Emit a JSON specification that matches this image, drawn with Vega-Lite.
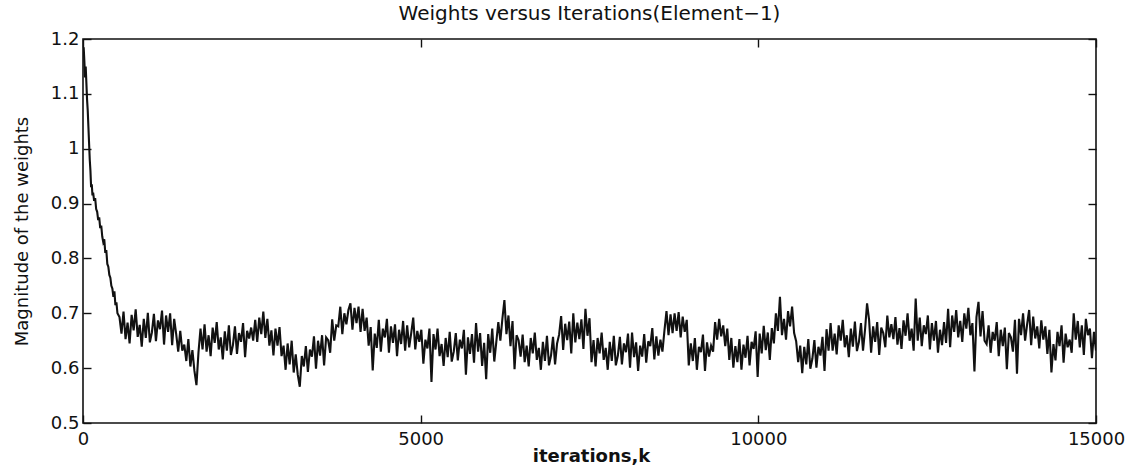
{
"$schema": "https://vega.github.io/schema/vega-lite/v6.json",
"autosize": {"type": "none"},
"width": 1013,
"height": 384,
"padding": {"left": 83, "top": 39, "right": 41, "bottom": 45},
"background": "white",
"config": {
  "view": {"stroke": "#111", "strokeWidth": 1.6},
  "axis": {"grid": false, "domain": false, "tickColor": "#111", "tickWidth": 1.4, "tickSize": -8,
           "labelFont": "DejaVu Sans", "labelFontSize": 18, "labelColor": "#111",
           "titleFont": "DejaVu Sans", "titleColor": "#111"},
  "title": {"font": "DejaVu Sans", "fontSize": 20, "fontWeight": "normal", "color": "#111"}
},
"title": {"text": "Weights versus Iterations(Element−1)", "anchor": "middle", "offset": 14, "baseline": "alphabetic", "dy": 24},
"data": {"values": [
{"k":0,"w":1.175},{"k":10,"w":1.185},{"k":20,"w":1.16},{"k":30,"w":1.13},{"k":40,"w":1.15},{"k":50,"w":1.12},{"k":60,"w":1.09},{"k":70,"w":1.07},{"k":80,"w":1.04},{"k":90,"w":1.01},
{"k":100,"w":0.98},{"k":110,"w":0.96},{"k":120,"w":0.93},{"k":130,"w":0.935},{"k":140,"w":0.915},{"k":150,"w":0.92},{"k":165,"w":0.905},{"k":180,"w":0.91},{"k":195,"w":0.89},{"k":210,"w":0.885},
{"k":225,"w":0.87},{"k":240,"w":0.875},{"k":255,"w":0.855},{"k":270,"w":0.86},{"k":285,"w":0.84},{"k":300,"w":0.83},{"k":315,"w":0.835},{"k":330,"w":0.81},{"k":345,"w":0.815},{"k":360,"w":0.79},
{"k":375,"w":0.785},{"k":390,"w":0.77},{"k":405,"w":0.765},{"k":420,"w":0.75},{"k":435,"w":0.745},{"k":450,"w":0.73},{"k":465,"w":0.74},{"k":480,"w":0.715},{"k":495,"w":0.72},{"k":510,"w":0.70},
{"k":540,"w":0.693},{"k":570,"w":0.663},{"k":600,"w":0.703},{"k":630,"w":0.653},{"k":660,"w":0.683},{"k":690,"w":0.645},{"k":720,"w":0.697},{"k":750,"w":0.669},{"k":780,"w":0.707},{"k":810,"w":0.657},
{"k":840,"w":0.679},{"k":870,"w":0.639},{"k":900,"w":0.690},{"k":930,"w":0.655},{"k":960,"w":0.701},{"k":990,"w":0.647},{"k":1020,"w":0.665},{"k":1050,"w":0.699},{"k":1080,"w":0.649},{"k":1110,"w":0.687},
{"k":1140,"w":0.671},{"k":1170,"w":0.705},{"k":1200,"w":0.643},{"k":1230,"w":0.696},{"k":1260,"w":0.666},{"k":1290,"w":0.700},{"k":1320,"w":0.642},{"k":1350,"w":0.690},{"k":1380,"w":0.662},{"k":1410,"w":0.630},
{"k":1440,"w":0.668},{"k":1470,"w":0.632},{"k":1500,"w":0.643},{"k":1530,"w":0.613},{"k":1560,"w":0.653},{"k":1590,"w":0.603},{"k":1620,"w":0.633},{"k":1650,"w":0.595},{"k":1680,"w":0.569},{"k":1710,"w":0.629},
{"k":1740,"w":0.672},{"k":1770,"w":0.634},{"k":1800,"w":0.680},{"k":1830,"w":0.630},{"k":1860,"w":0.660},{"k":1890,"w":0.622},{"k":1920,"w":0.674},{"k":1950,"w":0.646},{"k":1980,"w":0.684},{"k":2010,"w":0.634},
{"k":2040,"w":0.656},{"k":2070,"w":0.616},{"k":2100,"w":0.667},{"k":2130,"w":0.632},{"k":2160,"w":0.678},{"k":2190,"w":0.624},{"k":2220,"w":0.642},{"k":2250,"w":0.676},{"k":2280,"w":0.626},{"k":2310,"w":0.664},
{"k":2340,"w":0.648},{"k":2370,"w":0.682},{"k":2400,"w":0.620},{"k":2430,"w":0.668},{"k":2460,"w":0.654},{"k":2490,"w":0.674},{"k":2520,"w":0.650},{"k":2550,"w":0.688},{"k":2580,"w":0.648},{"k":2610,"w":0.692},
{"k":2640,"w":0.662},{"k":2670,"w":0.703},{"k":2700,"w":0.655},{"k":2730,"w":0.690},{"k":2760,"w":0.641},{"k":2790,"w":0.669},{"k":2820,"w":0.623},{"k":2850,"w":0.672},{"k":2880,"w":0.641},{"k":2910,"w":0.675},
{"k":2940,"w":0.622},{"k":2970,"w":0.641},{"k":3000,"w":0.597},{"k":3030,"w":0.645},{"k":3060,"w":0.607},{"k":3090,"w":0.650},{"k":3120,"w":0.592},{"k":3150,"w":0.625},{"k":3180,"w":0.588},{"k":3210,"w":0.566},
{"k":3240,"w":0.622},{"k":3270,"w":0.603},{"k":3300,"w":0.640},{"k":3330,"w":0.593},{"k":3360,"w":0.634},{"k":3390,"w":0.621},{"k":3420,"w":0.658},{"k":3450,"w":0.599},{"k":3480,"w":0.650},{"k":3510,"w":0.623},
{"k":3540,"w":0.660},{"k":3570,"w":0.605},{"k":3600,"w":0.656},{"k":3630,"w":0.651},{"k":3660,"w":0.628},{"k":3690,"w":0.689},{"k":3720,"w":0.650},{"k":3750,"w":0.678},{"k":3780,"w":0.676},{"k":3810,"w":0.712},
{"k":3840,"w":0.662},{"k":3870,"w":0.700},{"k":3900,"w":0.680},{"k":3930,"w":0.706},{"k":3960,"w":0.718},{"k":3990,"w":0.670},{"k":4020,"w":0.710},{"k":4050,"w":0.682},{"k":4080,"w":0.712},{"k":4110,"w":0.666},
{"k":4140,"w":0.708},{"k":4170,"w":0.668},{"k":4200,"w":0.692},{"k":4230,"w":0.641},{"k":4260,"w":0.675},{"k":4290,"w":0.596},{"k":4320,"w":0.663},{"k":4350,"w":0.637},{"k":4380,"w":0.688},{"k":4410,"w":0.630},
{"k":4440,"w":0.672},{"k":4470,"w":0.656},{"k":4500,"w":0.690},{"k":4530,"w":0.628},{"k":4560,"w":0.676},{"k":4590,"w":0.646},{"k":4620,"w":0.680},{"k":4650,"w":0.622},{"k":4680,"w":0.670},{"k":4710,"w":0.644},
{"k":4740,"w":0.686},{"k":4770,"w":0.632},{"k":4800,"w":0.678},{"k":4830,"w":0.638},{"k":4860,"w":0.664},{"k":4890,"w":0.692},{"k":4920,"w":0.634},{"k":4950,"w":0.668},{"k":4980,"w":0.648},{"k":5010,"w":0.670},
{"k":5040,"w":0.608},{"k":5070,"w":0.652},{"k":5100,"w":0.636},{"k":5130,"w":0.672},{"k":5160,"w":0.575},{"k":5190,"w":0.662},{"k":5220,"w":0.634},{"k":5250,"w":0.672},{"k":5280,"w":0.622},{"k":5310,"w":0.644},
{"k":5340,"w":0.604},{"k":5370,"w":0.655},{"k":5400,"w":0.620},{"k":5430,"w":0.666},{"k":5460,"w":0.612},{"k":5490,"w":0.630},{"k":5520,"w":0.664},{"k":5550,"w":0.614},{"k":5580,"w":0.652},{"k":5610,"w":0.636},
{"k":5640,"w":0.670},{"k":5670,"w":0.588},{"k":5700,"w":0.656},{"k":5730,"w":0.626},{"k":5760,"w":0.662},{"k":5790,"w":0.610},{"k":5820,"w":0.682},{"k":5850,"w":0.630},{"k":5880,"w":0.664},{"k":5910,"w":0.604},
{"k":5940,"w":0.646},{"k":5970,"w":0.580},{"k":6000,"w":0.662},{"k":6030,"w":0.628},{"k":6060,"w":0.672},{"k":6090,"w":0.612},{"k":6120,"w":0.648},{"k":6150,"w":0.684},{"k":6180,"w":0.650},{"k":6210,"w":0.690},
{"k":6240,"w":0.724},{"k":6270,"w":0.662},{"k":6300,"w":0.696},{"k":6330,"w":0.640},{"k":6360,"w":0.686},{"k":6390,"w":0.598},{"k":6420,"w":0.660},{"k":6450,"w":0.651},{"k":6480,"w":0.621},{"k":6510,"w":0.661},
{"k":6540,"w":0.611},{"k":6570,"w":0.641},{"k":6600,"w":0.603},{"k":6630,"w":0.655},{"k":6660,"w":0.627},{"k":6690,"w":0.665},{"k":6720,"w":0.615},{"k":6750,"w":0.637},{"k":6780,"w":0.597},{"k":6810,"w":0.648},
{"k":6840,"w":0.613},{"k":6870,"w":0.659},{"k":6900,"w":0.605},{"k":6930,"w":0.623},{"k":6960,"w":0.657},{"k":6990,"w":0.607},{"k":7020,"w":0.645},{"k":7050,"w":0.661},{"k":7080,"w":0.695},{"k":7110,"w":0.633},
{"k":7140,"w":0.681},{"k":7170,"w":0.651},{"k":7200,"w":0.685},{"k":7230,"w":0.627},{"k":7260,"w":0.700},{"k":7290,"w":0.647},{"k":7320,"w":0.683},{"k":7350,"w":0.653},{"k":7380,"w":0.689},{"k":7410,"w":0.635},
{"k":7440,"w":0.708},{"k":7470,"w":0.659},{"k":7500,"w":0.691},{"k":7530,"w":0.611},{"k":7560,"w":0.651},{"k":7590,"w":0.603},{"k":7620,"w":0.655},{"k":7650,"w":0.627},{"k":7680,"w":0.665},{"k":7710,"w":0.615},
{"k":7740,"w":0.637},{"k":7770,"w":0.597},{"k":7800,"w":0.648},{"k":7830,"w":0.613},{"k":7860,"w":0.659},{"k":7890,"w":0.605},{"k":7920,"w":0.623},{"k":7950,"w":0.657},{"k":7980,"w":0.607},{"k":8010,"w":0.645},
{"k":8040,"w":0.629},{"k":8070,"w":0.663},{"k":8100,"w":0.601},{"k":8130,"w":0.665},{"k":8160,"w":0.620},{"k":8190,"w":0.647},{"k":8220,"w":0.595},{"k":8250,"w":0.641},{"k":8280,"w":0.621},{"k":8310,"w":0.662},
{"k":8340,"w":0.610},{"k":8370,"w":0.649},{"k":8400,"w":0.640},{"k":8430,"w":0.673},{"k":8460,"w":0.616},{"k":8490,"w":0.658},{"k":8520,"w":0.623},{"k":8550,"w":0.652},{"k":8580,"w":0.630},{"k":8610,"w":0.669},
{"k":8640,"w":0.704},{"k":8670,"w":0.660},{"k":8700,"w":0.698},{"k":8730,"w":0.664},{"k":8760,"w":0.700},{"k":8790,"w":0.668},{"k":8820,"w":0.702},{"k":8850,"w":0.656},{"k":8880,"w":0.694},{"k":8910,"w":0.666},
{"k":8940,"w":0.688},{"k":8970,"w":0.605},{"k":9000,"w":0.645},{"k":9030,"w":0.613},{"k":9060,"w":0.655},{"k":9090,"w":0.597},{"k":9120,"w":0.639},{"k":9150,"w":0.629},{"k":9180,"w":0.661},{"k":9210,"w":0.595},
{"k":9240,"w":0.647},{"k":9270,"w":0.621},{"k":9300,"w":0.641},{"k":9330,"w":0.630},{"k":9360,"w":0.684},{"k":9390,"w":0.652},{"k":9420,"w":0.690},{"k":9450,"w":0.658},{"k":9480,"w":0.678},{"k":9510,"w":0.640},
{"k":9540,"w":0.672},{"k":9570,"w":0.615},{"k":9600,"w":0.655},{"k":9630,"w":0.601},{"k":9660,"w":0.640},{"k":9690,"w":0.611},{"k":9720,"w":0.653},{"k":9750,"w":0.597},{"k":9780,"w":0.643},{"k":9810,"w":0.619},
{"k":9840,"w":0.659},{"k":9870,"w":0.605},{"k":9900,"w":0.648},{"k":9930,"w":0.635},{"k":9960,"w":0.667},{"k":9990,"w":0.584},{"k":10020,"w":0.663},{"k":10050,"w":0.627},{"k":10080,"w":0.677},{"k":10110,"w":0.633},
{"k":10140,"w":0.665},{"k":10170,"w":0.615},{"k":10200,"w":0.673},{"k":10230,"w":0.645},{"k":10260,"w":0.700},{"k":10290,"w":0.668},{"k":10320,"w":0.730},{"k":10350,"w":0.660},{"k":10380,"w":0.690},{"k":10410,"w":0.652},
{"k":10440,"w":0.704},{"k":10470,"w":0.676},{"k":10500,"w":0.712},{"k":10530,"w":0.664},{"k":10560,"w":0.649},{"k":10590,"w":0.611},{"k":10620,"w":0.641},{"k":10650,"w":0.591},{"k":10680,"w":0.639},{"k":10710,"w":0.607},
{"k":10740,"w":0.653},{"k":10770,"w":0.599},{"k":10800,"w":0.617},{"k":10830,"w":0.651},{"k":10860,"w":0.601},{"k":10890,"w":0.639},{"k":10920,"w":0.623},{"k":10950,"w":0.657},{"k":10980,"w":0.595},{"k":11010,"w":0.671},
{"k":11040,"w":0.632},{"k":11070,"w":0.682},{"k":11100,"w":0.632},{"k":11130,"w":0.663},{"k":11160,"w":0.625},{"k":11190,"w":0.678},{"k":11220,"w":0.650},{"k":11250,"w":0.688},{"k":11280,"w":0.638},{"k":11310,"w":0.660},
{"k":11340,"w":0.620},{"k":11370,"w":0.672},{"k":11400,"w":0.639},{"k":11430,"w":0.685},{"k":11460,"w":0.631},{"k":11490,"w":0.648},{"k":11520,"w":0.682},{"k":11550,"w":0.632},{"k":11580,"w":0.670},{"k":11610,"w":0.718},
{"k":11640,"w":0.688},{"k":11670,"w":0.628},{"k":11700,"w":0.676},{"k":11730,"w":0.648},{"k":11760,"w":0.684},{"k":11790,"w":0.624},{"k":11820,"w":0.674},{"k":11850,"w":0.664},{"k":11880,"w":0.638},{"k":11910,"w":0.696},
{"k":11940,"w":0.656},{"k":11970,"w":0.680},{"k":12000,"w":0.653},{"k":12030,"w":0.693},{"k":12060,"w":0.643},{"k":12090,"w":0.673},{"k":12120,"w":0.635},{"k":12150,"w":0.687},{"k":12180,"w":0.659},{"k":12210,"w":0.700},
{"k":12240,"w":0.650},{"k":12270,"w":0.672},{"k":12300,"w":0.632},{"k":12330,"w":0.727},{"k":12360,"w":0.650},{"k":12390,"w":0.692},{"k":12420,"w":0.640},{"k":12450,"w":0.678},{"k":12480,"w":0.662},{"k":12510,"w":0.696},
{"k":12540,"w":0.634},{"k":12570,"w":0.682},{"k":12600,"w":0.650},{"k":12630,"w":0.686},{"k":12660,"w":0.628},{"k":12690,"w":0.670},{"k":12720,"w":0.642},{"k":12750,"w":0.684},{"k":12780,"w":0.646},{"k":12810,"w":0.708},
{"k":12840,"w":0.638},{"k":12870,"w":0.696},{"k":12900,"w":0.666},{"k":12930,"w":0.706},{"k":12960,"w":0.656},{"k":12990,"w":0.686},{"k":13020,"w":0.648},{"k":13050,"w":0.700},{"k":13080,"w":0.672},{"k":13110,"w":0.710},
{"k":13140,"w":0.660},{"k":13170,"w":0.682},{"k":13200,"w":0.594},{"k":13230,"w":0.693},{"k":13260,"w":0.721},{"k":13290,"w":0.658},{"k":13320,"w":0.704},{"k":13350,"w":0.650},{"k":13380,"w":0.644},{"k":13410,"w":0.678},
{"k":13440,"w":0.628},{"k":13470,"w":0.666},{"k":13500,"w":0.650},{"k":13530,"w":0.684},{"k":13560,"w":0.622},{"k":13590,"w":0.670},{"k":13620,"w":0.640},{"k":13650,"w":0.674},{"k":13680,"w":0.598},{"k":13710,"w":0.664},
{"k":13740,"w":0.656},{"k":13770,"w":0.630},{"k":13800,"w":0.688},{"k":13830,"w":0.590},{"k":13860,"w":0.690},{"k":13890,"w":0.660},{"k":13920,"w":0.700},{"k":13950,"w":0.650},{"k":13980,"w":0.680},{"k":14010,"w":0.706},
{"k":14040,"w":0.642},{"k":14070,"w":0.694},{"k":14100,"w":0.654},{"k":14130,"w":0.676},{"k":14160,"w":0.636},{"k":14190,"w":0.687},{"k":14220,"w":0.652},{"k":14250,"w":0.676},{"k":14280,"w":0.626},{"k":14310,"w":0.670},
{"k":14340,"w":0.592},{"k":14370,"w":0.644},{"k":14400,"w":0.614},{"k":14430,"w":0.666},{"k":14460,"w":0.640},{"k":14490,"w":0.678},{"k":14520,"w":0.610},{"k":14550,"w":0.663},{"k":14580,"w":0.638},{"k":14610,"w":0.652},
{"k":14640,"w":0.628},{"k":14670,"w":0.700},{"k":14700,"w":0.652},{"k":14730,"w":0.686},{"k":14760,"w":0.638},{"k":14790,"w":0.678},{"k":14820,"w":0.624},{"k":14850,"w":0.690},{"k":14880,"w":0.660},{"k":14910,"w":0.672},
{"k":14940,"w":0.618},{"k":14970,"w":0.666},{"k":15000,"w":0.632}
]},
"resolve": {"axis": {"x": "independent", "y": "independent"}},
"layer": [
  {
    "mark": {"type": "line", "color": "#111", "strokeWidth": 2.1, "clip": true},
    "encoding": {
      "x": {"field": "k", "type": "quantitative", "scale": {"domain": [0, 15000], "nice": false, "zero": false},
            "axis": {"orient": "bottom", "values": [0, 5000, 10000, 15000], "format": "d", "labelFlush": false, "labelPadding": 15,
                     "title": "iterations,k", "titleFontSize": 18, "titleFontWeight": "bold", "titleX": 508, "titleY": 33, "titleBaseline": "middle", "titleAlign": "center"}},
      "y": {"field": "w", "type": "quantitative", "scale": {"domain": [0.5, 1.2], "nice": false, "zero": false},
            "axis": {"orient": "left", "values": [0.5, 0.6, 0.7, 0.8, 0.9, 1.0, 1.1, 1.2], "format": ".1~f", "labelPadding": 12, "labelFlush": false,
                     "title": "Magnitude of the weights", "titleFontSize": 18, "titleFontWeight": "normal", "titleAngle": -90, "titleX": -61, "titleY": 192, "titleBaseline": "middle", "titleAlign": "center"}}
    }
  },
  {
    "mark": {"type": "line", "opacity": 0},
    "encoding": {
      "x": {"field": "k", "type": "quantitative",
            "axis": {"orient": "top", "values": [0, 5000, 10000, 15000], "labels": false, "title": null}},
      "y": {"field": "w", "type": "quantitative",
            "axis": {"orient": "right", "values": [0.5, 0.6, 0.7, 0.8, 0.9, 1.0, 1.1, 1.2], "labels": false, "title": null}}
    }
  }
]
}
